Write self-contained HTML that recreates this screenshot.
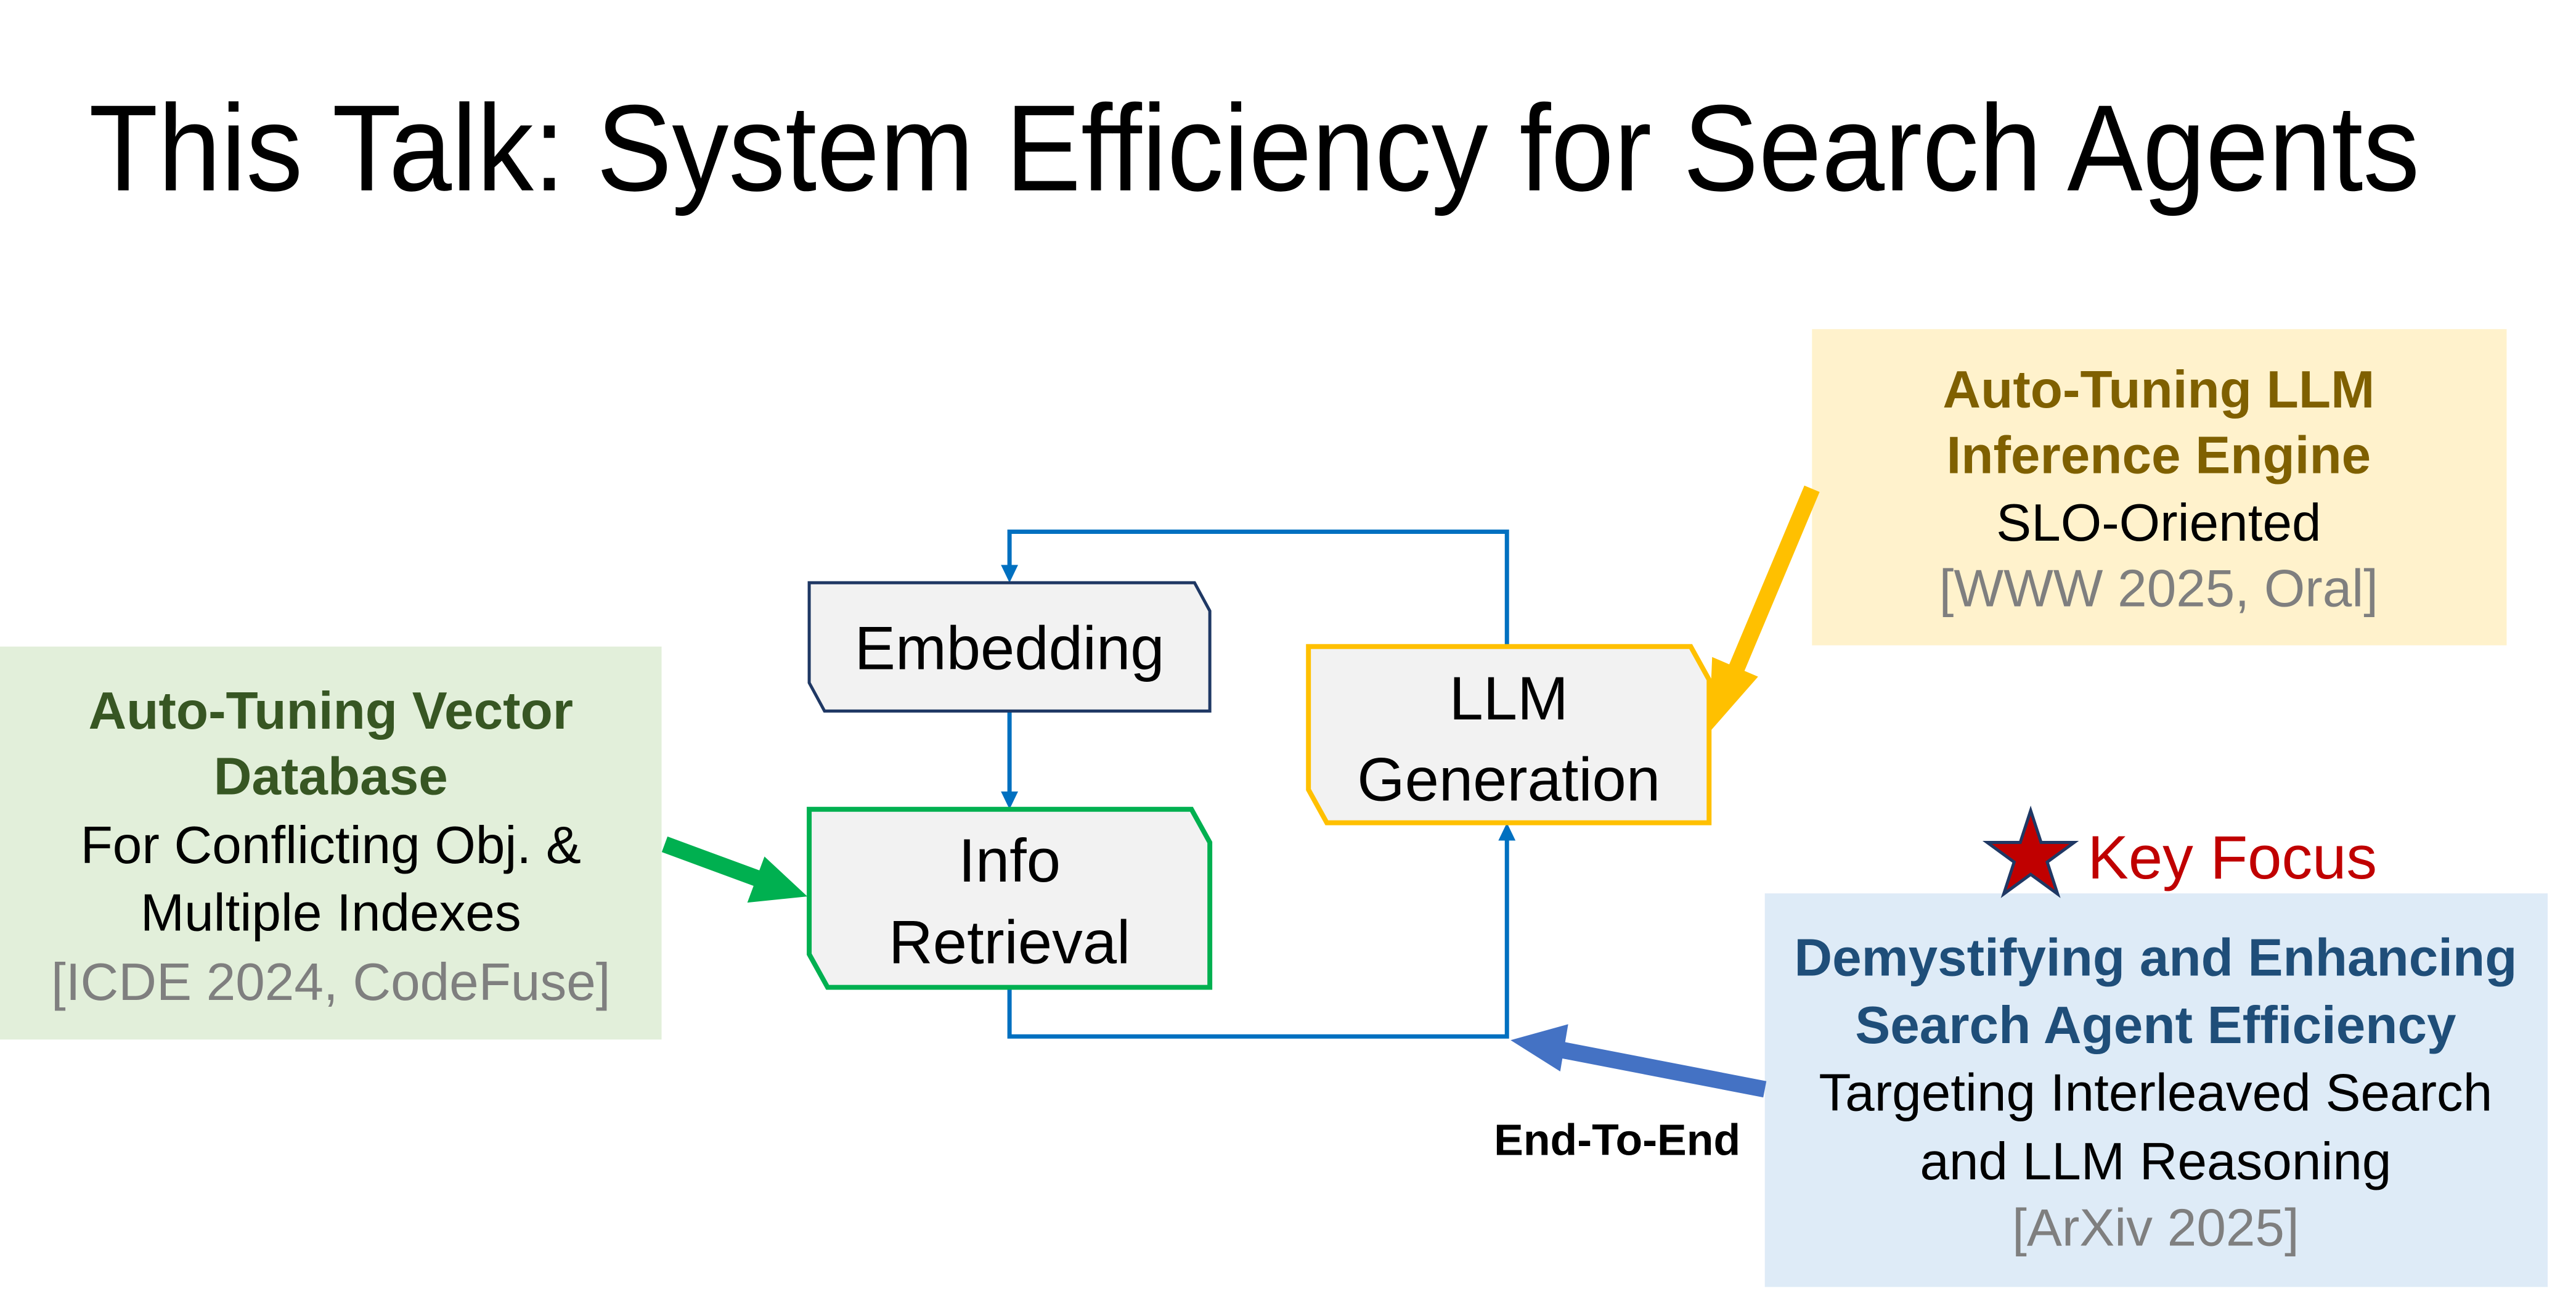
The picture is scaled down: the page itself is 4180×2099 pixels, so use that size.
<!DOCTYPE html>
<html><head><meta charset="utf-8"><style>
html,body{margin:0;padding:0;background:#fff;}
svg{display:block;}
text{font-family:"Liberation Sans",sans-serif;}
</style></head><body>
<svg width="4180" height="2099" viewBox="0 0 4180 2099" xmlns="http://www.w3.org/2000/svg">
<rect width="4180" height="2099" fill="#fff"/>
<g transform="scale(0.994,0.996)">
<text x="145" y="310" font-size="200" fill="#000" textLength="3805" lengthAdjust="spacingAndGlyphs">This Talk: System Efficiency for Search Agents</text>

<!-- Green box -->
<rect x="0" y="1053" width="1080" height="640" fill="#E2EFDA"/>
<g text-anchor="middle" dominant-baseline="central" font-size="86">
<text x="540" y="1158" font-weight="bold" fill="#375623">Auto-Tuning Vector</text>
<text x="540" y="1265" font-weight="bold" fill="#375623">Database</text>
<text x="540" y="1377" fill="#000">For Conflicting Obj. &amp;</text>
<text x="540" y="1487" fill="#000">Multiple Indexes</text>
<text x="540" y="1600" fill="#7f7f7f">[ICDE 2024, CodeFuse]</text>
</g>

<!-- Yellow box -->
<rect x="2958" y="536" width="1134" height="515" fill="#FFF2CC"/>
<g text-anchor="middle" dominant-baseline="central" font-size="86">
<text x="3524" y="635" font-weight="bold" fill="#7F6000">Auto-Tuning LLM</text>
<text x="3524" y="742" font-weight="bold" fill="#7F6000">Inference Engine</text>
<text x="3524" y="852" fill="#000">SLO-Oriented</text>
<text x="3524" y="959" fill="#7f7f7f">[WWW 2025, Oral]</text>
</g>

<!-- Blue box -->
<rect x="2881" y="1455" width="1278" height="641" fill="#DEEBF7"/>
<g text-anchor="middle" dominant-baseline="central" font-size="86">
<text x="3519" y="1560" font-weight="bold" fill="#1F4E79">Demystifying and Enhancing</text>
<text x="3519" y="1670" font-weight="bold" fill="#1F4E79">Search Agent Efficiency</text>
<text x="3519" y="1780" fill="#000">Targeting Interleaved Search</text>
<text x="3519" y="1892" fill="#000">and LLM Reasoning</text>
<text x="3519" y="2000" fill="#7f7f7f">[ArXiv 2025]</text>
</g>

<!-- Key Focus -->
<polygon points="3315,1320 3332,1372 3386,1372 3342,1404 3359,1456 3315,1424 3271,1456 3288,1404 3244,1372 3298,1372" fill="#C00000" stroke="#1F3864" stroke-width="5"/>
<text x="3408" y="1397" font-size="100" fill="#C00000" dominant-baseline="central">Key Focus</text>

<!-- Loop lines -->
<g fill="none" stroke="#0070C0" stroke-width="7">
<polyline points="2460,1053 2460,866 1648,866 1648,925"/>
<line x1="1648" y1="1158" x2="1648" y2="1294"/>
<polyline points="1648,1608 1648,1688 2460,1688 2460,1364"/>
</g>
<g fill="#0070C0">
<polygon points="1634,920 1662,920 1648,949"/>
<polygon points="1634,1289 1662,1289 1648,1318"/>
<polygon points="2446,1369 2474,1369 2460,1340"/>
</g>

<!-- Nodes -->
<polygon points="1321,949 1950,949 1975,995 1975,1158 1346,1158 1321,1112" fill="#F2F2F2" stroke="#1F3864" stroke-width="5"/>
<text x="1648" y="1056" font-size="100" text-anchor="middle" dominant-baseline="central">Embedding</text>

<polygon points="1321,1318 1945,1318 1975,1372 1975,1608 1351,1608 1321,1554" fill="#F2F2F2" stroke="#00B050" stroke-width="8"/>
<text x="1648" y="1402" font-size="100" text-anchor="middle" dominant-baseline="central">Info</text>
<text x="1648" y="1535" font-size="100" text-anchor="middle" dominant-baseline="central">Retrieval</text>

<polygon points="2136,1053 2760,1053 2790,1107 2790,1340 2166,1340 2136,1286" fill="#F2F2F2" stroke="#FFC000" stroke-width="8"/>
<text x="2463" y="1138" font-size="100" text-anchor="middle" dominant-baseline="central">LLM</text>
<text x="2463" y="1270" font-size="100" text-anchor="middle" dominant-baseline="central">Generation</text>

<!-- Thick arrows -->
<line x1="2958" y1="796" x2="2830" y2="1100" stroke="#FFC000" stroke-width="27"/>
<polygon points="2790,1193 2795,1070 2870,1102" fill="#FFC000"/>

<line x1="1085" y1="1375" x2="1240" y2="1432" stroke="#00B050" stroke-width="27"/>
<polygon points="1318,1460 1220,1470 1248,1395" fill="#00B050"/>

<line x1="2881" y1="1774" x2="2550" y2="1710" stroke="#4472C4" stroke-width="27"/>
<polygon points="2466,1694 2560,1668 2547,1745" fill="#4472C4"/>

<text x="2640" y="1857" font-size="72" font-weight="bold" text-anchor="middle" dominant-baseline="central">End-To-End</text>
</g>
</svg>
</body></html>
